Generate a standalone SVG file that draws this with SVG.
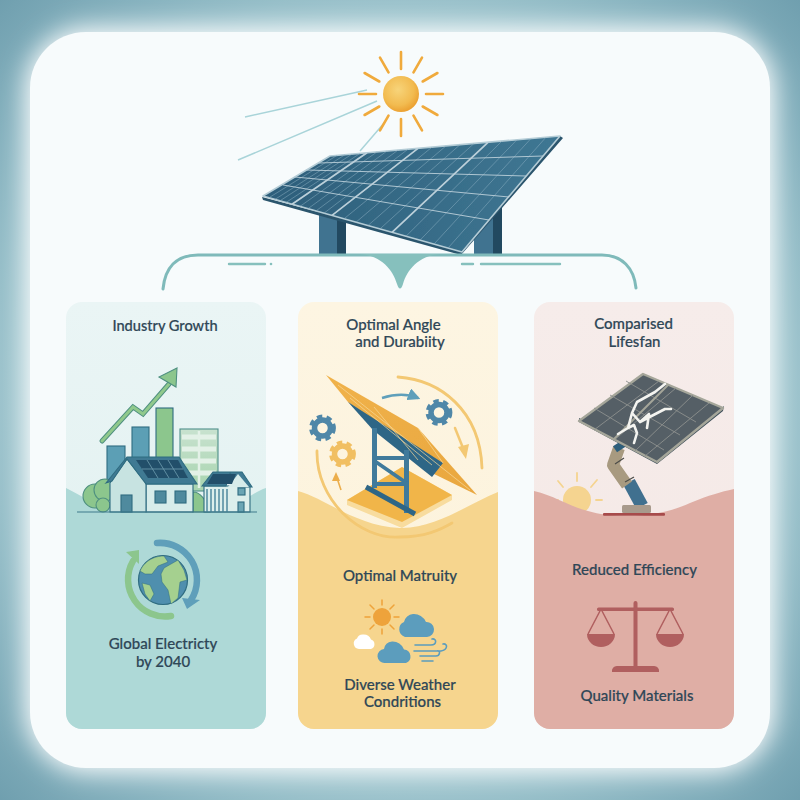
<svg xmlns="http://www.w3.org/2000/svg" xmlns:xlink="http://www.w3.org/1999/xlink" width="800" height="800" viewBox="0 0 800 800">
<style>
text{font-family:"Lato","Noto Sans",sans-serif;font-size:15px;font-weight:500;fill:#2f4757;stroke:#2f4757;stroke-width:.2px;text-anchor:middle}
.ray{stroke:#f0aa3c;stroke-width:2.6;stroke-linecap:round;fill:none}
.beam{stroke:#a9d4d9;stroke-width:1.5;fill:none}
.grid{stroke:#8fb1c4;stroke-width:.7;fill:none;opacity:.7}
.grid2{stroke:#bcd0da;stroke-width:.9;fill:none}
.brace{stroke:#7fbaba;stroke-width:3;fill:none;stroke-linecap:round}
.dash{stroke:#86c0bd;stroke-width:2.4;fill:none;stroke-linecap:round}
.arc{fill:none;stroke:#f3c873;stroke-width:2.8;stroke-linecap:round}
.gridg{stroke:#8c908d;stroke-width:.9;fill:none}
.crack{stroke:#f4f4f0;fill:none;stroke-linecap:round;stroke-linejoin:round}
.scale{fill:#b05f5f}
.wind{stroke:#5c9dbd;stroke-width:1.6;fill:none;stroke-linecap:round}
.leg{fill:#3f7a9b}
</style>
<defs>
<radialGradient id="bg" cx="50%" cy="50%" r="72%"><stop offset="0.6" stop-color="#a9cdd4"/><stop offset="0.8" stop-color="#8ab5c1"/><stop offset="1" stop-color="#6d9dad"/></radialGradient>
<filter id="glow" x="-10%" y="-10%" width="120%" height="120%"><feGaussianBlur stdDeviation="13"/></filter>
<filter id="soft" x="-5%" y="-5%" width="110%" height="110%"><feGaussianBlur stdDeviation="0.45"/></filter>
<radialGradient id="sun" cx="42%" cy="38%" r="62%"><stop offset="0" stop-color="#f7d47a"/><stop offset="0.7" stop-color="#f2bb50"/><stop offset="1" stop-color="#eca233"/></radialGradient>
<linearGradient id="pv" x1="0" y1="0" x2="1" y2="0"><stop offset="0" stop-color="#2d5e7a"/><stop offset="1" stop-color="#3f7793"/></linearGradient>
<linearGradient id="pTeal" x1="0" y1="0" x2="0" y2="1"><stop offset="0" stop-color="#eaf5f5"/><stop offset="1" stop-color="#dff0ef"/></linearGradient>
<linearGradient id="pGold" x1="0" y1="0" x2="0" y2="1"><stop offset="0" stop-color="#fdf5e2"/><stop offset="1" stop-color="#fcf2da"/></linearGradient>
<linearGradient id="pRose" x1="0" y1="0" x2="0" y2="1"><stop offset="0" stop-color="#f6ecea"/><stop offset="1" stop-color="#f4e8e5"/></linearGradient>
<linearGradient id="bld" x1="0" y1="0" x2="0" y2="1"><stop offset="0" stop-color="#c8e2cf"/><stop offset="1" stop-color="#a7d4ae"/></linearGradient>
<linearGradient id="board" x1="0" y1="0" x2="1" y2="1"><stop offset="0" stop-color="#f0b24a"/><stop offset="1" stop-color="#e9a73f"/></linearGradient>
<g id="gear"><circle r="8" fill="none" stroke-width="5.5"/><circle r="11.2" fill="none" stroke-width="4.4" stroke-dasharray="5.2 4.2"/></g>
<marker id="mBlue" viewBox="0 0 10 10" refX="8" refY="5" markerWidth="5" markerHeight="5" orient="auto"><path d="M0,0L10,5L0,10Z" fill="#5f9fba"/></marker>
</defs>

<rect width="800" height="800" fill="url(#bg)"/>
<rect x="26" y="28" width="748" height="744" rx="62" fill="#fff" filter="url(#glow)"/>
<rect x="30" y="32" width="740" height="736" rx="56" fill="#f7fbfc"/>

<g id="sun-node">
<path class="beam" d="M245,117L367,90M238,160L377,101M360,151L385,122"/>
<g class="ray"><path d="M401,52V69M422,57.600L413.500,72.300M437.400,73L422.700,81.500M443,94H426M437.400,115L422.700,106.500M422,130.400L413.500,115.700M401,136V119M380,130.400L388.500,115.700M364.600,115L379.300,106.500M359,94H376M364.600,73L379.300,81.500M380,57.600L388.500,72.300"/></g>
<circle cx="401" cy="94" r="18" fill="url(#sun)"/>
</g>

<g id="solar-array" filter="url(#soft)">
<rect x="319" y="205" width="27" height="49" fill="#3f7390"/><rect x="337" y="218" width="9" height="36" fill="#234a60"/>
<rect x="474" y="200" width="28" height="54" fill="#3f7390"/><rect x="493" y="205" width="9" height="49" fill="#234a60"/>
<path d="M262,197L263,200L461,255L563,138L560,136L462,250Z" fill="#2c556d"/>
<path d="M263,196L330,156L560,136L462,252Z" fill="url(#pv)" stroke="#b4ccd6" stroke-width="1.600" stroke-linejoin="round"/>
<path class="grid" d="M337,155.400L269,197.700M345,154.700L275,199.400M352,154.100L280,200.800M360,153.400L286,202.500M377,151.900L300,206.400M387,151L308,208.700M398,150.100L316,210.900M408,149.200L324,213.200M432,147.100L344,218.800M446,145.900L356,222.200M460,144.700L368,225.500M474,143.500L380,228.900M502,141L406,236.200M517,139.700L420,240.200M531,138.500L434,244.100M546,137.200L448,248.100"/>
<path class="grid2" d="M319,163L543,156M307,170L526,176M295,177L509,197M283,185L489,220"/>
<path class="grid2" style="stroke-width:1.700" d="M367,152.800L292,204.200M418,148.300L332,215.400M488,142.300L392,232.300"/>
</g>

<g id="connectors">
<path class="brace" d="M163,289C165,268 176,255 198,255H602C622,255 634,268 636,288"/>
<path d="M360,254C382,256 393,270 397,284Q400,293 403,284C407,270 418,256 440,254Z" fill="#86c0bd"/>
<path class="dash" d="M229,264H265M462,264H473M481,264H560"/><circle cx="271" cy="264" r="1.300" fill="#86c0bd"/>
</g>

<g id="panel-growth">
<rect x="66" y="302" width="200" height="427" rx="16" fill="url(#pTeal)"/>
<path d="M66,488C85,497 100,510 125,512H215C235,510 250,493 266,488V713a16,16 0 0 1-16,16H82a16,16 0 0 1-16-16Z" fill="#aed9d7"/>
<text x="165" y="331" style="font-size:14.600px">Industry Growth</text>
<g filter="url(#soft)" stroke="#2f6c80" stroke-width="1.100">
<rect x="107" y="446" width="18" height="38" fill="#5c9fb5"/>
<rect x="132" y="427" width="17" height="32" fill="#5c9fb5"/>
<rect x="156" y="408" width="17" height="50" fill="#8cc68d"/>
<rect x="180" y="429" width="38" height="62" fill="url(#bld)" stroke="#4f8f8a"/>
<path d="M182,437H216M182,449H216M182,461H216M182,473H216" stroke="#e3f1e7" stroke-width="5"/><path d="M199,431V488" stroke="#e3f1e7" stroke-width="2.500"/>
<path d="M102,441L133,407L143,414L169,384" fill="none" stroke="#4f9080" stroke-width="5" stroke-linecap="round"/>
<path d="M102,441L133,407L143,414L169,384" fill="none" stroke="#90c98c" stroke-width="3" stroke-linecap="round"/>
<path d="M177,368L159,377L176,387Z" fill="#8cc68d" stroke="#4f9080"/>
<circle cx="95" cy="496" r="12" fill="#8cc68d" stroke="#4f9080"/><circle cx="105" cy="490" r="11" fill="#8cc68d" stroke="#4f9080"/><circle cx="103" cy="505" r="7" fill="#8cc68d" stroke="#4f9080"/>
<path d="M193,512V492C200,492 202,497 204,499C209,499 210,506 210,512Z" fill="#8cc68d" stroke="#4f9080"/>
<rect x="146" y="484" width="47" height="28" fill="#d7ecea"/>
<path d="M110,483L127,459L146,483V512H110Z" fill="#c7e3e1"/>
<path d="M106,483L127,457H179L197,484H146L127,459L112,481Z" fill="#3f7a93"/>
<rect x="121" y="495" width="11" height="17" fill="#4f8a9e"/>
<rect x="155" y="491" width="11" height="12" fill="#4f8a9e"/><rect x="175" y="491" width="11" height="12" fill="#4f8a9e"/>
<path d="M136,460H178L188,478H148Z" fill="#24506a" stroke="none"/><path d="M142,469H183M147,460L158,478M158,460L169,478M168,460L179,478" stroke="#6f9db0" stroke-width=".8"/>
<rect x="204" y="486" width="46" height="26" fill="#dcefec"/>
<path d="M202,486L213,472H242L252,487H238L230,473L226,486Z" fill="#3f7a93"/>
<path d="M238,474L249,487H228Z" fill="#d7ecea" stroke="none"/>
<path d="M213,474H236L232,484H207Z" fill="#24506a" stroke="none"/>
<path d="M207,489V512M211,489V512M215,489V512M219,489V512M223,489V512M227,489V512" stroke="#4f8a9e" stroke-width="1.500"/>
<rect x="238" y="488" width="7" height="7" fill="#6aa5b4"/><rect x="238" y="502" width="6" height="10" fill="#6aa5b4"/>
</g>
<path d="M77,512H257" stroke="#3f7a8c" stroke-width="1.200"/>
<g id="globe" filter="url(#soft)">
<path d="M157,543A37,37 0 0 1 191,600" fill="none" stroke="#5f9fba" stroke-width="6.500" stroke-linecap="round"/><path d="M182,598L200,600L187,609Z" fill="#5f9fba"/>
<path d="M171,616A37,37 0 0 1 133,561" fill="none" stroke="#8cc68d" stroke-width="6.500" stroke-linecap="round"/><path d="M126,552L139,550L139,564Z" fill="#8cc68d"/>
<circle cx="163" cy="580" r="24.500" fill="#4f8fae" stroke="#2f6c80" stroke-width="1.200"/>
<path d="M140,571C146,558 158,556 164,556L168,562L158,566L152,574L145,574ZM164,568L178,560L184,570L187,580L180,582L178,598L171,604L168,590L162,582L161,574ZM142,583L150,585L154,594L150,601L145,594Z" fill="#a5d08f" stroke="#2f6c80" stroke-width=".5"/>
</g>
<text x="163" y="649">Global Electricty</text>
<text x="163" y="667">by 2040</text>
</g>

<g id="panel-durability">
<rect x="298" y="302" width="200" height="427" rx="16" fill="url(#pGold)"/>
<path d="M298,491C325,498 355,526 400,528C435,529 470,503 498,492V713a16,16 0 0 1-16,16H314a16,16 0 0 1-16-16Z" fill="#f6d58e"/>
<text x="393.500" y="330">Optimal Angle</text>
<text x="400" y="347">and Durabiity</text>
<g filter="url(#soft)">
<path class="arc" d="M398,377C440,380 480,410 482,468"/>
<path d="M347,500L402,467L452,495V500L402,528L347,505Z" fill="#f8dc9e"/>
<path d="M347,500L402,467L452,495L402,522Z" fill="#f1b54a"/>
<path class="arc" d="M317,451C316,500 360,540 400,537C425,537 440,530 452,523"/>
<path d="M326,375L418,428L477,495L432,473L348,402Z" fill="url(#board)"/>
<path d="M348,402L443,463L432,477L373,430Z" fill="#2f6686"/>
<path d="M374,407L418,460M418,428L443,463M350,398L432,465M338,385L470,490" stroke="#f7d99a" stroke-width=".7" fill="none"/>
<rect class="leg" x="372" y="428" width="5" height="60"/><rect class="leg" x="404" y="450" width="5" height="63"/>
<path d="M376,458H408M376,484H408M376,462L408,484" stroke="#3f7a9b" stroke-width="3.800" fill="none"/>
<path d="M366,487L415,514" stroke="#2f6686" stroke-width="5"/>
<path d="M382,398C395,394 408,394 418,398" fill="none" stroke="#5f9fba" stroke-width="2.500" marker-end="url(#mBlue)"/>
<path d="M455,428L463,448" stroke="#f3c873" stroke-width="2.500" stroke-linecap="round"/><path d="M466,459L458,447L469,444Z" fill="#f3c873"/>
<path d="M341,490L337,478" stroke="#ecae4c" stroke-width="1.600"/><path d="M336,472L340,481L332,481Z" fill="#ecae4c"/>
<use xlink:href="#gear" href="#gear" x="322.500" y="428" stroke="#4f87a8"/>
<use xlink:href="#gear" href="#gear" x="342.500" y="454" stroke="#f1bf62"/>
<use xlink:href="#gear" href="#gear" x="439" y="412.500" stroke="#4f87a8"/>
</g>
<text x="400" y="581">Optimal Matruity</text>
<g id="weather" filter="url(#soft)">
<circle cx="382" cy="617" r="9" fill="#eea33a"/>
<path d="M382,600V605M382,629V634M365,617H370M394,617H399M370,605L374,609M394,605L390,609M370,629L374,625M394,629L390,625" stroke="#eea33a" stroke-width="1.500" stroke-linecap="round"/>
<path d="M405,637a8,8 0 0 1-1-15a10,10 0 0 1 9-8a13,13 0 0 1 13,8a7.500,7.500 0 0 1 1,15Z" fill="#5c9dbd"/>
<path d="M359,649a5.500,5.500 0 0 1-2-10.500a6,6 0 0 1 6-4a8,8 0 0 1 8,5a5,5 0 0 1 0,9.500Z" fill="#fff"/>
<path d="M385,663a7,7 0 0 1-1-14a9,9 0 0 1 8-7.500a12,12 0 0 1 12,8a7,7 0 0 1 2,13.500Z" fill="#5c9dbd"/>
<path class="wind" d="M415,645H431C437,645 437,638 432,639M414,651H441C448,650 448,643 443,644M420,656H436C440,656 441,650 437,651M422,661H433"/>
</g>
<text x="400" y="690">Diverse Weather</text>
<text x="402.500" y="707">Condritions</text>
</g>

<g id="panel-lifespan">
<rect x="534" y="302" width="200" height="427" rx="16" fill="url(#pRose)"/>
<g filter="url(#soft)">
<circle cx="577" cy="500" r="14" fill="#f5d490"/>
<path d="M577,473V481M558,481L563,487M597,480L591,487M596,500H602M552,500H558" stroke="#f5d490" stroke-width="1.800" stroke-linecap="round"/>
</g>
<path d="M534,491C560,497 575,512 610,515C645,518 670,512 690,503C710,495 720,492 734,489V713a16,16 0 0 1-16,16H550a16,16 0 0 1-16-16Z" fill="#dfaea5"/>
<text x="633.500" y="329">Comparised</text>
<text x="634.500" y="347">Lifesfan</text>
<g filter="url(#soft)">
<path d="M629,482L642,506" stroke="#3f6f8f" stroke-width="13"/>
<path d="M619,448L613,465L627,485" fill="none" stroke="#a89a80" stroke-width="12" stroke-linejoin="round"/>
<path d="M618,443L622,449" stroke="#2f5f7c" stroke-width="12"/>
<path d="M615,464L624,458M625,482L634,477" stroke="#4c4c48" stroke-width="1.200"/>
<rect x="622" y="505" width="29" height="8" rx="1.500" fill="#a89a8c"/>
<rect x="603" y="513" width="62" height="2.800" rx="1" fill="#a74b4b"/>
<path d="M579,422L657,464L723,411L724,406L657,459L579,418Z" fill="#3e4f5a"/>
<path d="M643,374L723,408L657,462L579,421Z" fill="#555f66" stroke="#a5a69a" stroke-width="2.400" stroke-linejoin="round"/>
<path class="gridg" d="M659,381L594,430M676,388L613,441M693,395L635,451M709,403L645,456M626,381L696,422M610,395L680,435M594,408L664,450"/>
<path d="M668,385L613,440" stroke="#a5a69a" stroke-width="2"/>
<path class="crack" stroke-width="2.600" d="M665,384L655,392L637,402L632,413L628,428L618,434M632,413L640,422L665,409L671,409M640,422L649,414L647,428M628,428L634,425L637,433L634,443"/>
</g>
<text x="634.500" y="575">Reduced Efficiency</text>
<g id="scales" filter="url(#soft)">
<rect x="633.500" y="601" width="4" height="69" rx="2" class="scale"/>
<rect x="597" y="607.500" width="77" height="3.400" rx="1.500" class="scale"/>
<path d="M612,672A5,5 0 0 1 617,666H654A5,5 0 0 1 659,672Z" class="scale"/>
<path d="M601,609L588,634M601,609L614,634M670,609L657,634M670,609L683,634" stroke="#b05f5f" stroke-width="1.500" fill="none"/>
<path d="M587,634H615A14,13 0 0 1 587,634ZM656,634H684A14,13 0 0 1 656,634Z" class="scale"/>
</g>
<text x="637" y="701">Quality Materials</text>
</g>
</svg>
